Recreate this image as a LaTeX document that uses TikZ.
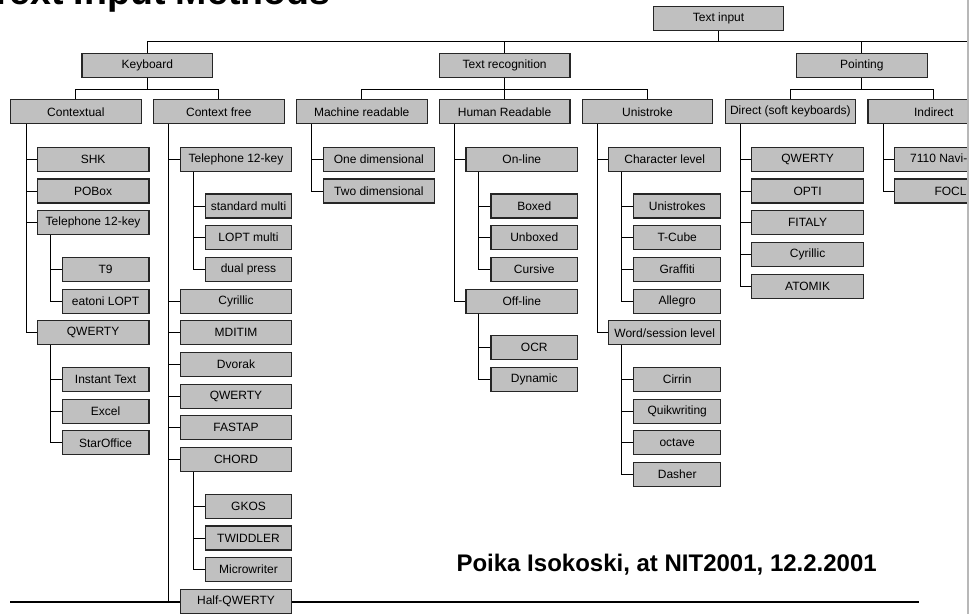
\documentclass[tikz,border=0pt]{standalone}
\usepackage{fontspec}
\setmainfont{Liberation Sans}
\definecolor{boxgrey}{HTML}{C0C0C0}
\definecolor{edgegrey}{HTML}{B8B8B8}
\tikzset{
  bx/.style={draw=black!85, line width=1.1pt, fill=boxgrey, minimum height=24pt,
    inner sep=0pt, anchor=north west, font=\fontsize{12}{13}\selectfont},
  cn/.style={draw=black, line width=0.9pt},
}
\newcommand{\mybox}[5]{\node[bx, minimum width=#4pt] (#1) at (#2,#3) {#5};}
\begin{document}
\begin{tikzpicture}[x=1pt,y=-1pt]
\useasboundingbox (0,0) rectangle (969,614);
\clip (0,0) rectangle (969,614);
% title (mostly cut off at the top)
\node[anchor=base west, inner sep=0pt, font=\bfseries\fontsize{37.5}{37.5}\selectfont] (title) at (-11,4.5) {Text Input Methods};
% bottom rule
\coordinate (ruleA) at (10,602);
\coordinate (ruleB) at (919,602);
\draw[line width=1.6pt] (ruleA) -- (ruleB);
% right window edge
\coordinate (edgeT) at (968,0);
\coordinate (edgeB) at (968,614);
% footer
\node[anchor=base east, inner sep=0pt, font=\bfseries\fontsize{24}{24}\selectfont] (footer) at (877,571.7) {Poika Isokoski, at NIT2001, 12.2.2001};

% level 0 / 1
\mybox{ti}{652.65}{6}{130.7}{Text input}
\mybox{kb}{81.45}{52.7}{130.7}{Keyboard}
\mybox{tr}{438.7}{52.7}{130.7}{Text recognition}
\mybox{pt}{795.95}{52.7}{130.7}{Pointing}
% level 2
\mybox{ctx}{10}{99.3}{130.7}{Contextual}
\mybox{cf}{152.9}{99.3}{130.7}{Context free}
\mybox{mr}{295.8}{99.3}{130.7}{Machine readable}
\mybox{hr}{438.7}{99.3}{130.7}{Human Readable}
\mybox{us}{581.6}{99.3}{130.7}{Unistroke}
\mybox{dir}{724.5}{99.3}{130.7}{Direct (soft keyboards)}
\mybox{ind}{867.4}{99.3}{130.7}{\hspace*{1pt}Indirect}

% Contextual column
\mybox{shk}{36.7}{146.7}{111.7}{SHK}
\mybox{pobox}{36.7}{178.4}{111.7}{POBox}
\mybox{telA}{36.7}{210.1}{111.7}{Telephone 12-key}
\mybox{tnine}{61.7}{256.8}{86.7}{T9}
\mybox{eatoni}{61.7}{288.5}{86.7}{eatoni LOPT}
\mybox{qwA}{36.7}{320.2}{111.7}{QWERTY}
\mybox{instant}{61.7}{366.9}{86.7}{Instant Text}
\mybox{excel}{61.7}{398.6}{86.7}{Excel}
\mybox{staroff}{61.7}{430.3}{86.7}{StarOffice}

% Context free column
\mybox{telB}{179.6}{146.7}{111.7}{Telephone 12-key}
\mybox{stdm}{204.6}{193.4}{86.7}{standard multi}
\mybox{loptm}{204.6}{225.1}{86.7}{LOPT multi}
\mybox{dualp}{204.6}{256.8}{86.7}{dual press}
\mybox{cyrB}{179.6}{288.5}{111.7}{Cyrillic}
\mybox{mditim}{179.6}{320.2}{111.7}{MDITIM}
\mybox{dvorak}{179.6}{351.9}{111.7}{Dvorak}
\mybox{qwB}{179.6}{383.6}{111.7}{QWERTY}
\mybox{fastap}{179.6}{415.3}{111.7}{FASTAP}
\mybox{chord}{179.6}{447.0}{111.7}{CHORD}
\mybox{gkos}{204.6}{493.7}{86.7}{GKOS}
\mybox{twid}{204.6}{525.4}{86.7}{TWIDDLER}
\mybox{micro}{204.6}{557.1}{86.7}{Microwriter}
\mybox{halfq}{179.6}{588.8}{111.7}{Half-QWERTY}

% Machine readable column
\mybox{onedim}{322.5}{146.7}{111.7}{One dimensional}
\mybox{twodim}{322.5}{178.4}{111.7}{Two dimensional}

% Human readable column
\mybox{online}{465.4}{146.7}{111.7}{On-line}
\mybox{boxed}{490.4}{193.4}{86.7}{Boxed}
\mybox{unboxed}{490.4}{225.1}{86.7}{Unboxed}
\mybox{cursive}{490.4}{256.8}{86.7}{Cursive}
\mybox{offline}{465.4}{288.5}{111.7}{Off-line}
\mybox{ocr}{490.4}{335.2}{86.7}{OCR}
\mybox{dynamic}{490.4}{366.9}{86.7}{Dynamic}

% Unistroke column
\mybox{charlev}{608.3}{146.7}{111.7}{Character level}
\mybox{unistr}{633.3}{193.4}{86.7}{Unistrokes}
\mybox{tcube}{633.3}{225.1}{86.7}{T-Cube}
\mybox{graffiti}{633.3}{256.8}{86.7}{Graffiti}
\mybox{allegro}{633.3}{288.5}{86.7}{Allegro}
\mybox{wordlev}{608.3}{320.2}{111.7}{Word/session level}
\mybox{cirrin}{633.3}{366.9}{86.7}{Cirrin}
\mybox{quik}{633.3}{398.6}{86.7}{Quikwriting}
\mybox{octave}{633.3}{430.3}{86.7}{octave}
\mybox{dasher}{633.3}{462.0}{86.7}{Dasher}

% Direct column
\mybox{qwC}{751.2}{146.7}{111.7}{QWERTY}
\mybox{opti}{751.2}{178.4}{111.7}{OPTI}
\mybox{fitaly}{751.2}{210.1}{111.7}{FITALY}
\mybox{cyrC}{751.2}{241.8}{111.7}{Cyrillic}
\mybox{atomik}{751.2}{273.5}{111.7}{ATOMIK}

% Indirect column (cut at the right edge)
\node[bx, minimum width=111.7pt] (navi) at (894.1,146.7) {};
\node[anchor=west, inner sep=0pt, font=\fontsize{12}{13}\selectfont] (navitxt) at (910,158.7) {7110 Navi-r};
\mybox{focl}{894.1}{178.4}{111.7}{FOCL}

% ---- connectors ----
% top bus
\draw[cn] (ti.south) -- ++(0,11) coordinate (topbus);
\coordinate (busend) at (975,41);
\draw[cn] (kb.north) |- (busend);
\draw[cn] (topbus -| tr.north) -- (tr.north);
\draw[cn] (topbus -| pt.north) -- (pt.north);
% level 1 -> 2 buses
\draw[cn] (kb.south) -- ++(0,11.3) coordinate (kbbus);
\draw[cn] (ctx.north) |- (kbbus) -| (cf.north);
\draw[cn] (tr.south) -- ++(0,11.3) coordinate (trbus);
\draw[cn] (mr.north) |- (trbus) -| (us.north);
\draw[cn] (trbus -| hr.north) -- (hr.north);
\draw[cn] (pt.south) -- ++(0,11.3) coordinate (ptbus);
\draw[cn] (dir.north) |- (ptbus) -| (ind.north);
% level 2 -> 3 spines
\foreach \c in {shk,pobox,telA,qwA} \draw[cn] ([xshift=16pt]ctx.south west) |- (\c.west);
\foreach \c in {telB,cyrB,mditim,dvorak,qwB,fastap,chord,halfq} \draw[cn] ([xshift=16pt]cf.south west) |- (\c.west);
\foreach \c in {onedim,twodim} \draw[cn] ([xshift=16pt]mr.south west) |- (\c.west);
\foreach \c in {online,offline} \draw[cn] ([xshift=16pt]hr.south west) |- (\c.west);
\foreach \c in {charlev,wordlev} \draw[cn] ([xshift=16pt]us.south west) |- (\c.west);
\foreach \c in {qwC,opti,fitaly,cyrC,atomik} \draw[cn] ([xshift=16pt]dir.south west) |- (\c.west);
\foreach \c in {navi,focl} \draw[cn] ([xshift=16pt]ind.south west) |- (\c.west);
% level 3 -> 4 spines
\foreach \c in {tnine,eatoni} \draw[cn] ([xshift=13.5pt]telA.south west) |- (\c.west);
\foreach \c in {instant,excel,staroff} \draw[cn] ([xshift=13.5pt]qwA.south west) |- (\c.west);
\foreach \c in {stdm,loptm,dualp} \draw[cn] ([xshift=13.5pt]telB.south west) |- (\c.west);
\foreach \c in {gkos,twid,micro} \draw[cn] ([xshift=13.5pt]chord.south west) |- (\c.west);
\foreach \c in {boxed,unboxed,cursive} \draw[cn] ([xshift=13.5pt]online.south west) |- (\c.west);
\foreach \c in {ocr,dynamic} \draw[cn] ([xshift=13.5pt]offline.south west) |- (\c.west);
\foreach \c in {unistr,tcube,graffiti,allegro} \draw[cn] ([xshift=13.5pt]charlev.south west) |- (\c.west);
\foreach \c in {cirrin,quik,octave,dasher} \draw[cn] ([xshift=13.5pt]wordlev.south west) |- (\c.west);

% right window edge
\draw[edgegrey, line width=1.5pt] (edgeT) -- (edgeB);
\end{tikzpicture}
\end{document}
